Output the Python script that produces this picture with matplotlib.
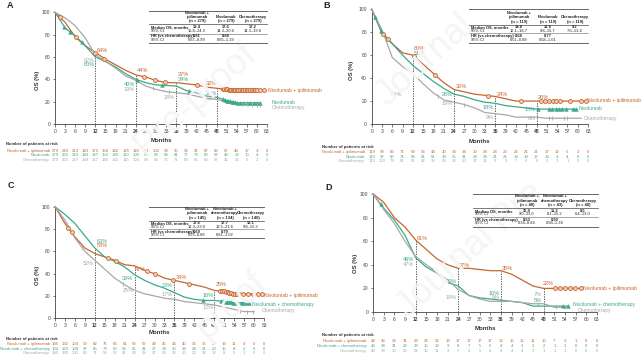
import numpy as np
import matplotlib
matplotlib.use("Agg")
import matplotlib.pyplot as plt
from matplotlib.lines import Line2D
from matplotlib.transforms import blended_transform_factory

plt.rcParams['font.family'] = ['Liberation Sans', 'DejaVu Sans']

W, H = 641, 356
ORANGE = '#C9652E'
TEAL = '#3DA88B'
GRAY = '#A8A8A8'

risk_months = list(range(0, 64, 3))

# ---------------- panel A ----------------
a_ni_t = [0, 3, 6, 9, 12, 15, 18, 21, 24, 27, 30, 33, 36, 39, 42, 45, 48, 51, 54, 57, 60, 62]
a_ni = [100, 91, 78, 70, 64, 58, 53, 48, 44, 42, 39, 37, 37, 36, 35, 33, 32, 31, 30, 30, 30, 30]
a_nv_t = [0, 3, 6, 9, 12, 15, 18, 21, 24, 27, 30, 33, 36, 39, 42, 45, 48, 51, 54, 57, 60, 61]
a_nv = [100, 86, 79, 70, 60, 56, 51, 45, 40, 37, 35, 34.5, 34, 30, 28, 25, 24, 21, 19, 19, 19, 19]
a_ch_t = [0, 3, 6, 9, 12, 15, 18, 21, 24, 27, 30, 33, 36, 39, 42, 45, 48, 51, 54, 57, 60, 61]
a_ch = [100, 95, 88, 77, 62, 56, 50, 43, 39, 34, 31, 29, 28, 27, 25, 23, 22, 20, 18, 17.5, 17, 17]
a_ni_cens = [1.5, 6.2, 12, 14.7, 26.3, 29.8, 32.7, 42.2, 49.8, 50.3, 50.8, 51.2, 51.6, 52, 52.4,
             52.8, 53.2, 53.6, 54, 54.5, 55, 55.5, 56, 56.5, 57, 57.5, 58, 58.5, 59, 59.5, 60, 61, 62]
a_nv_cens = [2.8, 4.5, 8, 24.3, 31.7, 39.7, 50, 50.5, 51, 51.5, 52, 52.5, 53, 53.5, 54, 55, 56,
             57, 58, 59, 60, 61]
a_ch_cens = [29, 34, 55.5, 57, 58.5, 60, 61]
a_risk_ni = [279, 243, 213, 183, 175, 158, 142, 125, 118, 111, 102, 98, 95, 93, 91, 87, 82, 67, 48, 17, 3, 0]
a_risk_nv = [279, 232, 210, 184, 167, 150, 130, 113, 106, 98, 93, 88, 81, 77, 73, 62, 58, 48, 23, 10, 4, 0]
a_risk_ch = [279, 255, 227, 189, 167, 146, 131, 115, 104, 93, 83, 76, 71, 69, 65, 60, 57, 41, 21, 6, 2, 0]
a_heads = ["Nivolumab +\nipilimumab\n(n = 279)", "Nivolumab\n(n = 279)", "Chemotherapy\n(n = 279)"]
a_median = ["18.4", "17.6", "17.2"]
a_median_ci = ["15.8\u201324.3", "14.3\u201320.6", "14.3\u201319.6"]
a_hr = ["0.81", "0.88", ""]
a_hr_ci = ["0.67\u20130.99", "0.65\u20131.19", ""]
a_pct = [(12.3, 66, "64%", ORANGE, 'left'), (11.8, 57, "62%", GRAY, 'right'),
         (11.8, 53.5, "60%", TEAL, 'right'), (24.3, 47.5, "44%", ORANGE, 'left'),
         (23.7, 35, "40%", TEAL, 'right'), (23.7, 31, "39%", GRAY, 'right'),
         (36.5, 44, "37%", ORANGE, 'left'), (36.5, 39.5, "34%", TEAL, 'left'),
         (35.5, 24, "28%", GRAY, 'right'), (48.2, 36.5, "32%", ORANGE, 'right'),
         (48.2, 27, "24%", TEAL, 'right'), (48.2, 22.5, "22%", GRAY, 'right')]
a_ends = [("Nivolumab + ipilimumab", 63.3, 30, ORANGE), ("Nivolumab", 64.3, 19, TEAL),
          ("Chemotherapy", 64.3, 14.5, GRAY)]

# ---------------- panel B ----------------
b_ni_t = [0, 3, 6, 9, 12, 15, 18, 21, 24, 27, 30, 33, 36, 39, 42, 45, 48, 51, 54, 57, 60, 62.3]
b_ni = [100, 80, 70, 62, 60, 52, 44, 36, 30, 28, 26, 25, 24, 22, 20, 20, 20, 20, 20, 20, 20, 20]
b_nv_t = [0, 3, 6, 9, 12, 15, 18, 21, 24, 27, 30, 33, 36, 39, 42, 45, 48, 51, 54, 57, 59.4]
b_nv = [100, 79, 70, 60, 51, 44, 37, 31, 26, 24, 21, 19, 18, 16, 15, 14, 13, 13, 13, 13, 13]
b_ch_t = [0, 3, 6, 9, 12, 15, 18, 21, 24, 27, 30, 33, 36, 39, 42, 45, 48, 51, 54, 57, 60, 61]
b_ch = [100, 82, 58, 50, 44, 35, 27, 21, 19, 17, 14, 10, 9, 8, 6, 6, 6, 5, 5, 5, 5, 5]
b_ni_cens = [3.4, 4.8, 12.4, 18.4, 33.8, 43.5, 49.3, 50.4, 51.5, 52.7, 53.8, 54.8, 57.7, 60.9, 62.3]
b_nv_cens = [1, 2.7, 48.3, 51.7, 52.6, 53.6, 54.6, 55.5, 56.5, 58.5, 59.4]
b_ch_cens = [19.3, 27, 51.7, 52.6, 56, 57]
b_risk_ni = [119, 98, 82, 71, 69, 58, 48, 40, 34, 34, 30, 28, 28, 23, 23, 21, 21, 17, 12, 5, 2, 0]
b_risk_nv = [119, 97, 80, 71, 68, 61, 51, 39, 35, 31, 28, 24, 21, 21, 19, 19, 17, 13, 4, 4, 0, 0]
b_risk_ch = [119, 103, 79, 61, 51, 42, 35, 29, 22, 20, 17, 11, 9, 9, 7, 6, 6, 3, 1, 1, 0, 0]
b_heads = ["Nivolumab +\nipilimumab\n(n = 119)", "Nivolumab\n(n = 119)", "Chemotherapy\n(n = 119)"]
b_median = ["14.8", "12.8", "9.2"]
b_median_ci = ["12.1\u201318.7", "9.8\u201315.7", "7.6\u201313.4"]
b_hr = ["0.68", "0.77", ""]
b_hr_ci = ["0.51\u20130.89", "0.58\u20131.01", ""]
b_pct = [(12.3, 65.5, "60%", ORANGE, 'left'), (12.3, 61.5, "51%", TEAL, 'left'),
         (8.8, 25.5, "44%", GRAY, 'right'), (24.4, 32.5, "30%", ORANGE, 'left'),
         (23.7, 25.5, "26%", TEAL, 'right'), (23.7, 17.5, "19%", GRAY, 'right'),
         (36.3, 26, "24%", ORANGE, 'left'), (35.5, 14.5, "18%", TEAL, 'right'),
         (35.5, 5.8, "9%", GRAY, 'right'), (48.3, 23, "20%", ORANGE, 'left'),
         (47.7, 12.5, "15%", TEAL, 'right'), (47.7, 4.5, "6%", GRAY, 'right')]
b_ends = [("Nivolumab + ipilimumab", 62.7, 20.3, ORANGE), ("Nivolumab", 60.3, 13.7, TEAL),
          ("Chemotherapy", 61.8, 5, GRAY)]

# ---------------- panel C ----------------
c_ni_t = [0, 3, 6, 9, 12, 15, 18, 21, 24, 27, 30, 33, 36, 39, 42, 45, 48, 51, 54, 57, 60, 62.5]
c_ni = [100, 85, 73, 63, 58, 55, 52, 48, 47, 43, 40, 36, 34, 32, 30, 28, 25, 24, 22, 22, 22, 22]
c_nv_t = [0, 3, 6, 9, 12, 15, 18, 21, 24, 27, 30, 33, 36, 39, 42, 45, 48, 51, 54, 57, 58.5]
c_nv = [100, 93, 85, 74, 63, 55, 51, 46, 39, 34, 30, 27, 23, 19, 17, 16, 16, 15, 14, 14, 14]
c_ch_t = [0, 3, 6, 9, 12, 15, 18, 21, 24, 27, 30, 33, 36, 39, 42, 45, 48, 51, 54, 57, 60]
c_ch = [100, 88, 72, 60, 52, 44, 36, 30, 25, 22, 20, 18, 17, 15, 14, 13, 12, 10, 8, 6, 6]
c_ni_cens = [4, 5, 16, 18.5, 27.6, 30, 35.6, 40.4, 49.6, 50.2, 50.8, 51.4, 52, 52.6, 53.2, 53.8,
             54.4, 55, 55.6, 56.7, 58.2, 59.7, 61.2, 62.5]
c_nv_cens = [44.6, 50, 50.6, 51.2, 51.8, 52.4, 53, 53.6, 54.4, 55.2, 56, 56.8, 57.6, 58.5]
c_ch_cens = [8, 20.5, 55.7, 58, 59.7]
c_risk_ni = [145, 132, 104, 90, 82, 75, 66, 61, 58, 52, 49, 45, 43, 40, 36, 35, 29, 19, 11, 4, 0, 0]
c_risk_nv = [134, 123, 108, 97, 85, 73, 60, 58, 51, 41, 37, 34, 30, 28, 24, 21, 20, 15, 8, 2, 0, 0]
c_risk_ch = [140, 130, 100, 80, 71, 59, 50, 41, 34, 29, 27, 24, 22, 20, 20, 18, 13, 8, 5, 1, 0, 0]
c_heads = ["Nivolumab +\nipilimumab\n(n = 145)", "Nivolumab +\nchemotherapy\n(n = 134)",
           "Chemotherapy\n(n = 140)"]
c_median = ["17.6", "17.7", "13.1"]
c_median_ci = ["12.3\u201323.0", "13.5\u201321.6", "9.8\u201315.3"]
c_hr = ["0.69", "0.79", ""]
c_hr_ci = ["0.53\u20130.89", "0.61\u20131.02", ""]
c_pct = [(12.5, 68.5, "63%", TEAL, 'left'), (12.5, 65, "58%", ORANGE, 'left'),
         (11.8, 49, "52%", GRAY, 'right'), (24.2, 44, "47%", ORANGE, 'left'),
         (23.6, 35.5, "39%", TEAL, 'right'), (23.6, 24.5, "25%", GRAY, 'right'),
         (36.3, 37, "34%", ORANGE, 'left'), (35.6, 29, "23%", TEAL, 'right'),
         (35.6, 21.5, "17%", GRAY, 'right'), (48.3, 30, "25%", ORANGE, 'left'),
         (47.7, 20, "16%", TEAL, 'right'), (47.7, 9.8, "12%", GRAY, 'right')]
c_ends = [("Nivolumab + ipilimumab", 63.0, 20.7, ORANGE), ("Nivolumab + chemotherapy", 59.3, 12.8, TEAL),
          ("Chemotherapy", 62.3, 6.8, GRAY)]

# ---------------- panel D ----------------
d_ni_t = [0, 3, 6, 9, 12, 15, 18, 21, 24, 27, 30, 33, 36, 39, 42, 45, 48, 51, 54, 57, 58.6]
d_ni = [100, 93, 80, 72, 61, 53, 45, 40, 37, 37, 36, 35, 35, 32, 27, 22, 20, 20, 20, 20, 20]
d_nv_t = [0, 3, 6, 9, 12, 15, 18, 21, 24, 27, 30, 33, 36, 39, 42, 45, 48, 51, 54, 54.8]
d_nv = [100, 88, 78, 65, 46, 38, 33, 25, 22, 14, 12, 11, 10, 9, 8, 5, 5, 5, 5, 5]
d_ch_t = [0, 3, 6, 9, 12, 15, 18, 21, 24, 27, 30, 33, 36, 39, 42, 45, 48, 51, 55]
d_ch = [100, 87, 75, 60, 47, 40, 34, 27, 19, 14, 11, 9, 9, 9, 8, 7, 7, 4, 4]
d_ni_cens = [51.2, 52.7, 54, 55.3, 56.7, 58.6]
d_nv_cens = [2.2, 53.4, 54.8]
d_ch_cens = [46.5, 51.5, 54]
d_risk_ni = [48, 43, 39, 31, 29, 24, 21, 19, 17, 17, 17, 17, 16, 15, 15, 11, 10, 7, 3, 1, 0, 0]
d_risk_nv = [43, 38, 31, 22, 19, 15, 13, 9, 8, 7, 5, 5, 4, 4, 3, 2, 2, 1, 1, 0, 0, 0]
d_risk_ch = [48, 38, 30, 22, 21, 15, 11, 9, 7, 6, 5, 4, 4, 4, 4, 3, 1, 1, 1, 0, 0, 0]
d_heads = ["Nivolumab +\nipilimumab\n(n = 48)", "Nivolumab +\nchemotherapy\n(n = 43)",
           "Chemotherapy\n(n = 48)"]
d_median = ["15.9", "11.3", "8.5"]
d_median_ci = ["9.0\u201333.0", "8.1\u201315.2", "6.4\u201313.0"]
d_hr = ["0.53", "0.90", ""]
d_hr_ci = ["0.34\u20130.84", "0.58\u20131.38", ""]
d_pct = [(12.4, 62.5, "61%", ORANGE, 'left'), (11.6, 44.5, "46%", TEAL, 'right'),
         (11.6, 40, "47%", GRAY, 'right'), (24.2, 39.5, "37%", ORANGE, 'left'),
         (23.6, 26, "22%", TEAL, 'right'), (23.6, 12.5, "19%", GRAY, 'right'),
         (36.1, 36.5, "35%", ORANGE, 'left'), (35.6, 16, "10%", TEAL, 'right'),
         (35.6, 12, "9%", GRAY, 'right'), (47.8, 24.5, "22%", ORANGE, 'left'),
         (47.6, 14.5, "7%", GRAY, 'right'), (47.6, 10, "5%", TEAL, 'right')]
d_ends = [("Nivolumab + ipilimumab", 59.0, 19.5, ORANGE), ("Nivolumab + chemotherapy", 56.3, 6, TEAL),
          ("Chemotherapy", 57.5, 1.5, GRAY)]


def fx(x):
    return x / W


def fy(y):
    return 1 - y / H


def hline(fig, x0, x1, y, lw=0.6):
    fig.add_artist(Line2D([fx(x0), fx(x1)], [fy(y), fy(y)], transform=fig.transFigure,
                          color='#666666', lw=lw))


fig = plt.figure(figsize=(W / 100, H / 100), dpi=100)
fig.patch.set_facecolor('white')

# faint watermark fragments
for s, x, y in [("Pre-proof", 195, 100), ("Journal", 425, 60), ("proof", 232, 305), ("Journal Pre", 470, 250)]:
    fig.text(fx(x), fy(y), s, fontsize=26, color='#f5f5f5', rotation=42, ha='center', va='center', zorder=0)

panels = [
    dict(letter='A', letter_xy=(7, 6), box=(55, 267, 12.3, 124),
         curves=[(a_ni_t, a_ni, ORANGE, a_ni_cens, 'o'), (a_nv_t, a_nv, TEAL, a_nv_cens, '^'),
                 (a_ch_t, a_ch, GRAY, a_ch_cens, '|')],
         pct=a_pct, ends=a_ends, risk=[a_risk_ni, a_risk_nv, a_risk_ch],
         risk_names=["Nivolumab + ipilimumab", "Nivolumab", "Chemotherapy"],
         risk_y=(144, 150.7, 155.5, 160.3), risk_lx=(6, 50), months_y=140, ylab=(37, 80),
         table=dict(x0=149, x1=267, top=11, hdr=24.2, mid=33.6, bot=43, lx=151,
                    cols=(197, 226, 253), rows=(27.3, 30.7, 36.3, 39.9)),
         heads=a_heads, median=a_median, median_ci=a_median_ci, hr=a_hr, hr_ci=a_hr_ci),
    dict(letter='B', letter_xy=(323, 5), box=(371.7, 588, 9.3, 124),
         curves=[(b_ni_t, b_ni, ORANGE, b_ni_cens, 'o'), (b_nv_t, b_nv, TEAL, b_nv_cens, '^'),
                 (b_ch_t, b_ch, GRAY, b_ch_cens, '|')],
         pct=b_pct, ends=b_ends, risk=[b_risk_ni, b_risk_nv, b_risk_ch],
         risk_names=["Nivolumab + ipilimumab", "Nivolumab", "Chemotherapy"],
         risk_y=(146.7, 152, 156.7, 161.3), risk_lx=(322, 365), months_y=141.7, ylab=(352, 70),
         table=dict(x0=469, x1=588, top=9.3, hdr=24.5, mid=33.3, bot=42.7, lx=471,
                    cols=(519, 548, 575), rows=(27.3, 30.7, 36, 39.7)),
         heads=b_heads, median=b_median, median_ci=b_median_ci, hr=b_hr, hr_ci=b_hr_ci),
    dict(letter='C', letter_xy=(8, 185), box=(55, 264, 206.7, 318.3),
         curves=[(c_ni_t, c_ni, ORANGE, c_ni_cens, 'o'), (c_nv_t, c_nv, TEAL, c_nv_cens, '^'),
                 (c_ch_t, c_ch, GRAY, c_ch_cens, '|')],
         pct=c_pct, ends=c_ends, risk=[c_risk_ni, c_risk_nv, c_risk_ch],
         risk_names=["Nivolumab + ipilimumab", "Nivolumab + chemotherapy", "Chemotherapy"],
         risk_y=(338.7, 343.7, 348.7, 353.3), risk_lx=(6, 50), months_y=332.7, ylab=(37, 275),
         table=dict(x0=149, x1=264, top=206.7, hdr=220.7, mid=229, bot=237.7, lx=151,
                    cols=(197, 225, 251), rows=(223.3, 226.6, 231.6, 234.9)),
         heads=c_heads, median=c_median, median_ci=c_median_ci, hr=c_hr, hr_ci=c_hr_ci),
    dict(letter='D', letter_xy=(325, 188), box=(373, 597, 194, 312),
         curves=[(d_ni_t, d_ni, ORANGE, d_ni_cens, 'o'), (d_nv_t, d_nv, TEAL, d_nv_cens, '^'),
                 (d_ch_t, d_ch, GRAY, d_ch_cens, '|')],
         pct=d_pct, ends=d_ends, risk=[d_risk_ni, d_risk_nv, d_risk_ch],
         risk_names=["Nivolumab + ipilimumab", "Nivolumab + chemotherapy", "Chemotherapy"],
         risk_y=(335, 340.7, 346, 351), risk_lx=(322, 366.7), months_y=329, ylab=(355, 263),
         table=dict(x0=473, x1=598, top=194, hdr=208, mid=217, bot=227, lx=475,
                    cols=(527, 555, 583), rows=(211, 214.3, 220, 223.3)),
         heads=d_heads, median=d_median, median_ci=d_median_ci, hr=d_hr, hr_ci=d_hr_ci),
]

colors = [ORANGE, TEAL, GRAY]
for p in panels:
    x0, x1, ytop, ybot = p['box']
    ax = fig.add_axes([fx(x0), fy(ybot), (x1 - x0) / W, (ybot - ytop) / H])
    ax.set_facecolor('none')
    ax.set_xlim(0, 63)
    ax.set_ylim(0, 100)
    for sp in ['top', 'right']:
        ax.spines[sp].set_visible(False)
    for sp in ['left', 'bottom']:
        ax.spines[sp].set_linewidth(0.6)
        ax.spines[sp].set_color('#444444')
    ax.set_xticks(risk_months)
    ax.set_xticklabels([str(m) for m in risk_months])
    for lab, m in zip(ax.get_xticklabels(), risk_months):
        if m in (12, 24, 36, 48):
            lab.set_fontweight('bold')
    ax.set_yticks([0, 20, 40, 60, 80, 100])
    ax.tick_params(labelsize=3.6, length=1.8, width=0.5, pad=1.5, colors='#444444')

    # curves
    tops = np.zeros(4)
    for t, v, c, cens, mk in p['curves']:
        ax.plot(t, v, color=c, lw=0.9, zorder=3, clip_on=False)
        cy = np.interp(cens, t, v)
        if mk == 'o':
            ax.plot(cens, cy, 'o', ms=2.8, mfc='#F2CDB5', mec=c, mew=0.6, zorder=4, clip_on=False)
        elif mk == '^':
            ax.plot(cens, cy, '^', ms=2.6, mfc=c, mec=c, mew=0.4, zorder=4, clip_on=False)
        else:
            ax.plot(cens, cy, '|', ms=3, mec=c, mew=0.6, zorder=4, clip_on=False)
        tops = np.maximum(tops, np.interp([12, 24, 36, 48], t, v))
    ax.vlines([12, 24, 36, 48], 0, tops, colors='#444444', linestyles=(0, (1.6, 1.4)), lw=0.6, zorder=2)

    for x, y, s, c, ha in p['pct']:
        ax.text(x, y, s, color=c, fontsize=4, ha=ha, va='center', zorder=5)
    for s, x, y, c in p['ends']:
        ax.text(x, y, s, color=c, fontsize=3.6, ha='left', va='center', clip_on=False)

    # labels
    fig.text(fx(p['letter_xy'][0]), fy(p['letter_xy'][1]), p['letter'], fontsize=6.5,
             fontweight='bold', color='#222222', va='center', ha='left')
    fig.text(fx(p['ylab'][0]), fy(p['ylab'][1]), 'OS (%)', fontsize=4.2, fontweight='bold',
             rotation=90, ha='center', va='center', color='#333333')
    fig.text(fx((x0 + x1) / 2), fy(p['months_y']), 'Months', fontsize=4.3, fontweight='bold',
             ha='center', va='center', color='#333333')

    # risk table
    trans = blended_transform_factory(ax.transData, fig.transFigure)
    hy, r1, r2, r3 = p['risk_y']
    fig.text(fx(p['risk_lx'][0]), fy(hy), 'Number of patients at risk', fontsize=3.1,
             fontweight='bold', color='#333333', va='center', ha='left')
    for vals, name, c, ry in zip(p['risk'], p['risk_names'], colors, (r1, r2, r3)):
        fig.text(fx(p['risk_lx'][1]), fy(ry), name, fontsize=3.0, color=c, ha='right', va='center')
        for m, v in zip(risk_months, vals):
            ax.text(m, fy(ry), str(v), transform=trans, fontsize=3.1, color=c,
                    ha='center', va='center', clip_on=False)

    # inset table
    tb = p['table']
    hline(fig, tb['x0'], tb['x1'], tb['top'], 0.7)
    hline(fig, tb['x0'], tb['x1'], tb['hdr'], 0.6)
    hline(fig, tb['x0'], tb['x1'], tb['mid'], 0.4)
    hline(fig, tb['x0'], tb['x1'], tb['bot'], 0.7)
    ry = tb['rows']
    fig.text(fx(tb['lx']), fy(ry[0]), 'Median OS, months', fontsize=2.9, fontweight='bold', va='center', color='#222222')
    fig.text(fx(tb['lx']), fy(ry[1]), '95% CI', fontsize=2.9, va='center', color='#222222')
    fig.text(fx(tb['lx']), fy(ry[2]), 'HR (vs chemotherapy)', fontsize=2.9, fontweight='bold', va='center', color='#222222')
    fig.text(fx(tb['lx']), fy(ry[3]), '95% CI', fontsize=2.9, va='center', color='#222222')
    for i, cx in enumerate(tb['cols']):
        fig.text(fx(cx), fy(tb['hdr'] - 0.8), p['heads'][i], fontsize=2.9, fontweight='bold',
                 ha='center', va='bottom', linespacing=1.15, color='#222222')
        fig.text(fx(cx), fy(ry[0]), p['median'][i], fontsize=2.9, fontweight='bold', ha='center', va='center', color='#222222')
        fig.text(fx(cx), fy(ry[1]), p['median_ci'][i], fontsize=2.9, ha='center', va='center', color='#222222')
        fig.text(fx(cx), fy(ry[2]), p['hr'][i], fontsize=2.9, fontweight='bold', ha='center', va='center', color='#222222')
        fig.text(fx(cx), fy(ry[3]), p['hr_ci'][i], fontsize=2.9, ha='center', va='center', color='#222222')

fig.savefig('out.png', dpi=100)
